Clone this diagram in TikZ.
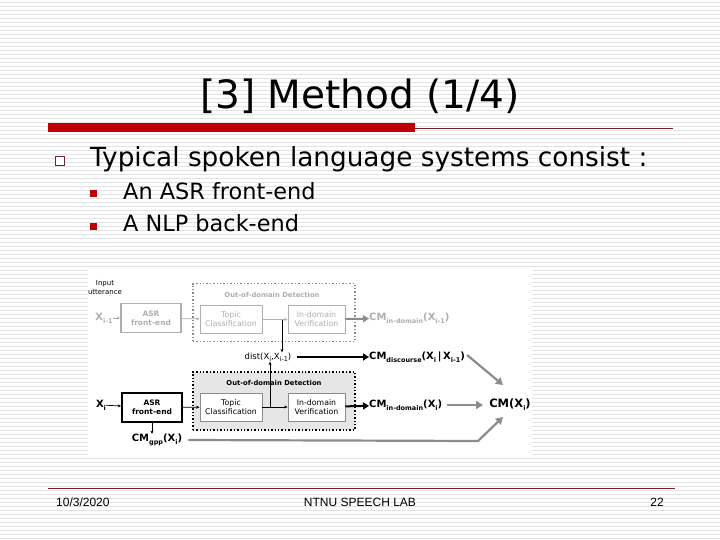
\documentclass[tikz,border=0pt]{standalone}
\usepackage{fontspec}
\setmainfont{DejaVu Sans}
\newfontfamily\footfont{Liberation Sans}
\usetikzlibrary{arrows.meta}
\definecolor{slidered}{RGB}{192,0,0}
\definecolor{darkred}{RGB}{110,35,40}
\definecolor{bgline}{RGB}{226,226,226}
\definecolor{faded}{RGB}{175,175,175}
\definecolor{cmgray}{RGB}{140,140,140}
\definecolor{oodfill}{RGB}{230,230,230}
\newcommand{\lowsub}[1]{\raisebox{-0.5ex}{\fontsize{6.5}{6.5}\selectfont #1}}
\tikzset{
  asrbox/.style={draw, line width=1.6pt, minimum width=60pt, minimum height=29pt, inner sep=0pt, align=center, font=\fontsize{7.5}{9}\selectfont\bfseries},
  clsbox/.style={draw=faded, fill=white, line width=0.8pt, minimum height=28pt, inner sep=0pt, align=center, font=\fontsize{7.8}{9}\selectfont},
  oodbox/.style={draw, dotted, line width=1.4pt, minimum width=162pt, minimum height=58pt, inner sep=0pt},
  oodtitle/.style={font=\fontsize{6.8}{7}\selectfont\bfseries, inner sep=0pt},
  cmlabel/.style={anchor=west, inner sep=0pt, font=\fontsize{10}{11}\selectfont\bfseries},
  thin arrow/.style={-{Stealth[length=3.5pt,width=3pt]}, line width=0.7pt},
  thick arrow/.style={-{Triangle[length=6pt,width=7pt]}, line width=2pt},
  gray arrow/.style={-{Triangle[length=7pt,width=8pt]}, line width=2.2pt, cmgray}
}
\begin{document}
\begin{tikzpicture}[x=1pt, y=-1pt, line join=miter]
  \useasboundingbox (0,0) rectangle (720,540);
  % ruled background
  \fill[white] (0,0) rectangle (720,540);
  \foreach \y in {2,6,...,538} \draw[bgline, line width=0.8pt] (0,\y) -- (720,\y);
  % title and red rule
  \node[font=\fontsize{39}{44}\selectfont, inner sep=0pt] (title) at (360,96) {[3] Method (1/4)};
  \fill[slidered] (48,123) rectangle (415,132);
  \draw[darkred, line width=0.8pt] (415,128) -- (673,128);
  % bullets
  \draw[darkred, line width=1pt, fill=white] (55.5,156.5) rectangle (64.5,165.5);
  \node[anchor=base west, inner sep=0pt, font=\fontsize{26.3}{30}\selectfont] (item) at (90,167) {Typical spoken language systems consist :};
  \fill[slidered] (90,190) rectangle (97,197);
  \fill[slidered] (90,223) rectangle (97,230);
  \node[anchor=base west, inner sep=0pt, font=\fontsize{22.4}{26}\selectfont] (asritem) at (123,200) {An ASR front-end};
  \node[anchor=base west, inner sep=0pt, font=\fontsize{22.4}{26}\selectfont] (nlpitem) at (123,232) {A NLP back-end};
  % figure area
  \fill[white] (88,268) rectangle (532,456);
  \node[align=center, inner sep=0pt, font=\fontsize{7}{9}\selectfont] (input) at (105,287) {Input\\utterance};
  % previous utterance (faded)
  \node[oodbox, draw=cmgray] (oodA) at (274,312.5) {};
  \node[oodtitle, faded] (oodAt) at (272,295) {Out-of-domain Detection};
  \node[asrbox, draw=faded, text=faded] (asrA) at (151,318) {ASR\\front-end};
  \node[clsbox, text=faded, minimum width=62pt] (topA) at (231,319.5) {Topic\\Classification};
  \node[clsbox, text=faded, minimum width=57pt] (verA) at (316.5,319.5) {In-domain\\Verification};
  \node[inner sep=0pt, font=\fontsize{10}{11}\selectfont\bfseries, text=faded] (xA) at (104,318) {X\lowsub{i-1}};
  \node[cmlabel, text=faded] (cmA) at (369,318) {CM\lowsub{in-domain}(X\lowsub{i-1})};
  \draw[thin arrow, faded] (xA) -- (asrA);
  \draw[thin arrow, faded] (asrA) -- (topA);
  \coordinate (brA) at (282,319.5);
  \draw[thin arrow, faded] (topA) -- (verA);
  \draw[thick arrow, cmgray] (verA) -- (cmA);
  % discourse
  \node[inner sep=0pt, font=\fontsize{8.5}{10}\selectfont] (dist) at (268,357) {dist(X\lowsub{i},X\lowsub{i-1})};
  \node[cmlabel] (cmD) at (369,357) {CM\lowsub{discourse}(X\lowsub{i}\,|\,X\lowsub{i-1})};
  \draw[thin arrow, line width=0.9pt] (brA) -- (brA |- dist.north);
  \draw[thick arrow] ([xshift=6pt]dist.east) -- (cmD);
  % current utterance
  \node[oodbox, fill=oodfill] (oodB) at (274,401) {};
  \node[oodtitle] (oodBt) at (274,383) {Out-of-domain Detection};
  \node[asrbox] (asrB) at (152,407.5) {ASR\\front-end};
  \node[clsbox, draw=cmgray, minimum width=62pt] (topB) at (231,407) {Topic\\Classification};
  \node[clsbox, draw=cmgray, minimum width=57pt] (verB) at (316.5,407) {In-domain\\Verification};
  \node[inner sep=0pt, font=\fontsize{10}{11}\selectfont\bfseries] (xB) at (101,405) {X\lowsub{i}};
  \node[cmlabel] (cmB) at (369,405) {CM\lowsub{in-domain}(X\lowsub{i})};
  \node[inner sep=0pt, font=\fontsize{10}{11}\selectfont\bfseries] (gpp) at (157,440) {CM\lowsub{gpp}(X\lowsub{i})};
  \node[inner sep=0pt, font=\fontsize{11.5}{12}\selectfont\bfseries] (cmX) at (510,405) {CM(X\lowsub{i})};
  \draw[thin arrow] (xB) -- (asrB);
  \draw[thin arrow] (asrB) -- (topB);
  \coordinate (brB) at (270,407);
  \draw[thin arrow] (topB) -- (verB);
  \draw[thin arrow] (brB) -- (brB |- dist.south);
  \draw[thin arrow, line width=1pt] (asrB.south) -- (asrB.south |- gpp.north);
  \draw[thick arrow] (verB) -- (cmB);
  % combination
  \coordinate (bend) at (478,441);
  \draw[gray arrow] ([xshift=5pt]cmB.east) -- ([xshift=-6pt]cmX.west);
  \draw[gray arrow] ([xshift=2pt,yshift=2pt]cmD.east) -- (503,385);
  \draw[gray arrow] ([xshift=6pt]gpp.east) -- (bend) -- (503,417);
  % footer
  \draw[darkred, line width=1pt] (48,488) -- (675,488);
  \node[anchor=base west, inner sep=0pt, font=\footfont\fontsize{12}{14}\selectfont] (date) at (56,506) {10/3/2020};
  \node[anchor=base, inner sep=0pt, font=\footfont\fontsize{12}{14}\selectfont] (lab) at (360,506) {NTNU SPEECH LAB};
  \node[anchor=base east, inner sep=0pt, font=\footfont\fontsize{12}{14}\selectfont] (page) at (664,506) {22};
\end{tikzpicture}
\end{document}
